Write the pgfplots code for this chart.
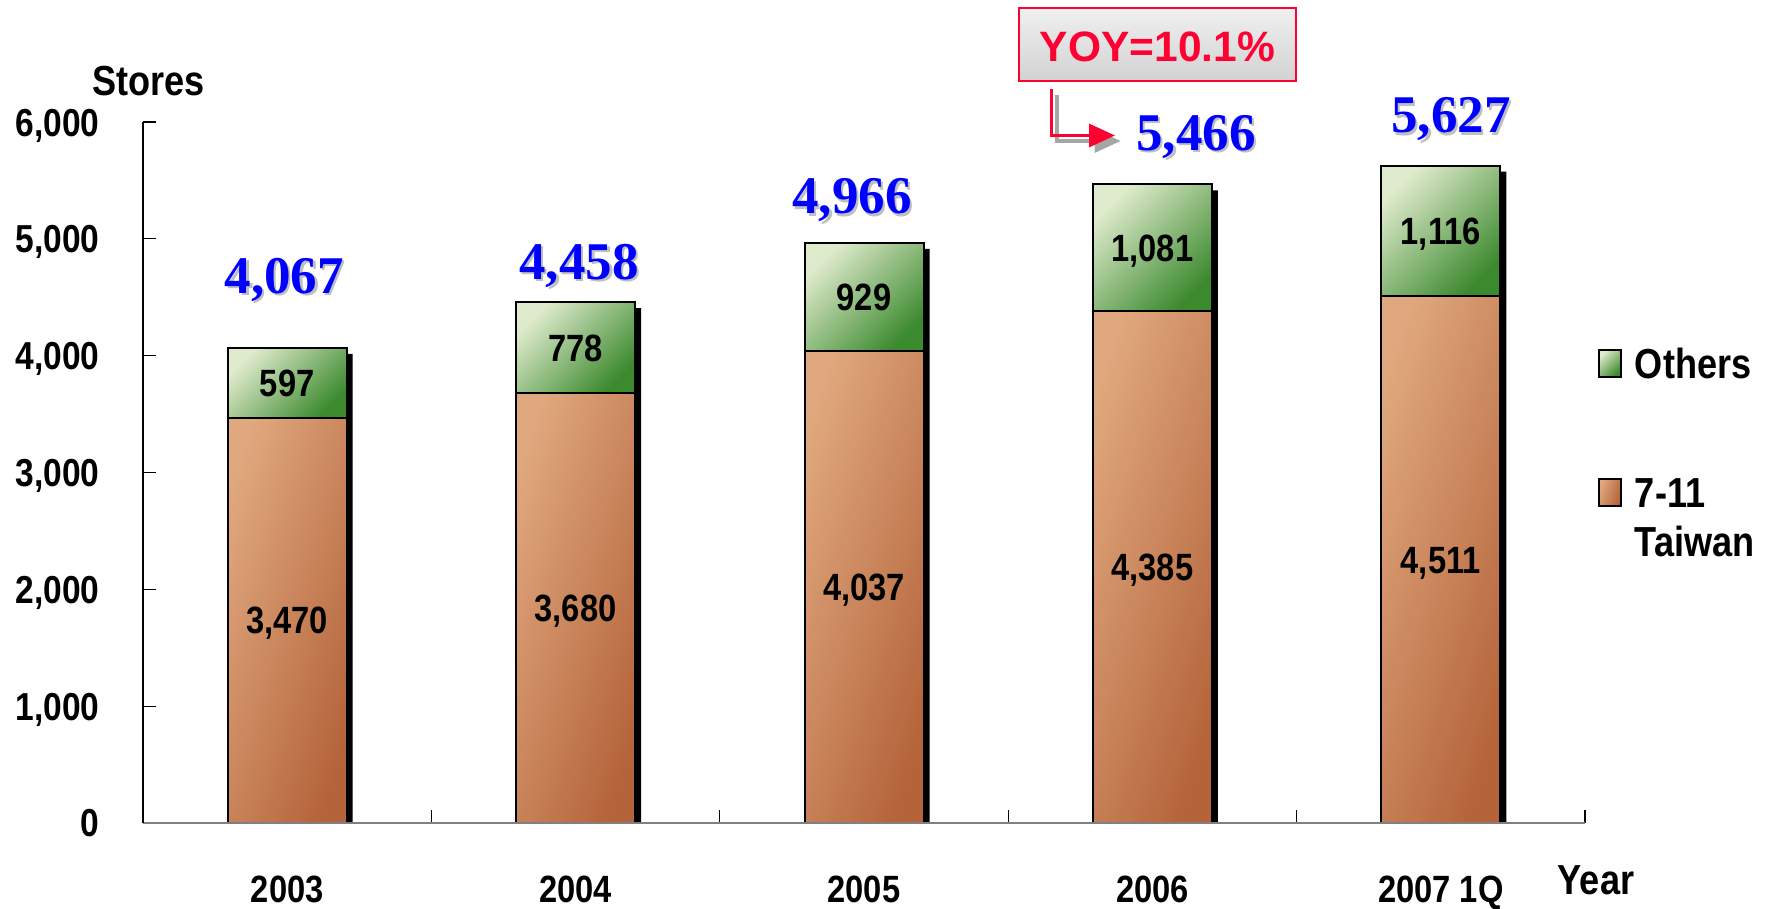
\documentclass[border=0pt]{standalone}
\usepackage{pgfplots}
\pgfplotsset{compat=1.18}
\usepackage{pgfplotstable}
\usepackage{fontspec}
\setmainfont{Liberation Sans}
\newfontfamily\narrow[FakeStretch=0.86]{Liberation Sans}
\newfontfamily\tnr{Liberation Serif}
\usetikzlibrary{arrows.meta}
\definecolor{orL}{HTML}{E0A87E}
\definecolor{orD}{HTML}{B4633A}
\definecolor{grL}{HTML}{E0EBCD}
\definecolor{grD}{HTML}{3C8A2E}
\definecolor{yoyred}{HTML}{FF0033}
\definecolor{lblue}{HTML}{0000FF}

\pgfplotstableread{
x seven others total tx ty
0 3470 597 4067 -0.01 4686
1 3680 778 4458 1.012 4810
2 4037 929 4966 1.958 5367
3 4385 1081 5466 3.151 5914
4 4511 1116 5627 4.035 6060
}\storedata

\pgfplotsset{
  /pgf/number format/.cd, 1000 sep={,}, assume math mode=true,
  /pgfplots/.cd,
  base/.style={
    at={(71.5pt,43pt)}, anchor=south west,
    scale only axis, width=721pt, height=350.5pt,
    xmin=-0.5, xmax=4.5, ymin=0, ymax=6000,
  },
  baraxis/.style={base, hide axis, ybar stacked, bar width=59.5pt},
  orbar/.style={draw=black, line width=1pt, top color=orL, bottom color=orD, shading angle=72},
  grbar/.style={draw=black, line width=1pt, top color=grL, bottom color=grD, shading angle=45},
}
\begin{document}
\begin{tikzpicture}
\useasboundingbox (0,0) rectangle (883pt,454.5pt);
% shadows
\begin{axis}[base, hide axis]
\addplot[ybar, bar width=59.5pt, bar shift=3pt, fill=black, draw=none, yshift=-3pt] table[x=x,y=total]{\storedata};
\end{axis}
% bars, one stacked axis per year so that each bar has its own shading
\begin{axis}[baraxis]
\addplot[orbar] coordinates {(0,3470)};
\addplot[grbar] coordinates {(0,597)};
\end{axis}
\begin{axis}[baraxis]
\addplot[orbar] coordinates {(1,3680)};
\addplot[grbar] coordinates {(1,778)};
\end{axis}
\begin{axis}[baraxis]
\addplot[orbar] coordinates {(2,4037)};
\addplot[grbar] coordinates {(2,929)};
\end{axis}
\begin{axis}[baraxis]
\addplot[orbar] coordinates {(3,4385)};
\addplot[grbar] coordinates {(3,1081)};
\end{axis}
\begin{axis}[baraxis]
\addplot[orbar] coordinates {(4,4511)};
\addplot[grbar] coordinates {(4,1116)};
\end{axis}
% main axis: lines, ticks, labels, legend
\begin{axis}[base,
  axis x line*=bottom, axis y line*=left,
  x axis line style={draw=gray, line width=1pt, -},
  y axis line style={draw=black, line width=0.6pt, -},
  tick align=inside,
  major tick length=6.5pt,
  tick style={draw=black, line width=0.6pt},
  xtick={-0.5,0.5,...,4.5}, xticklabels={,,,,,},
  extra x ticks={0,1,2,3,4},
  extra x tick labels={2003,2004,2005,2006,2007 1Q},
  extra x tick style={major tick length=0pt, xticklabel style={font=\narrow\bfseries\fontsize{19}{20}\selectfont, anchor=base, inner sep=0pt, yshift=-40pt}},
  ytick={0,1000,...,6000},
  yticklabel style={font=\narrow\bfseries\fontsize{19.5}{20}\selectfont, anchor=base east, inner sep=0pt, xshift=-21.5pt, yshift=-7pt},
  ylabel={Stores},
  ylabel style={rotate=-90, at={(rel axis cs:0,1)}, anchor=base, xshift=2.75pt, yshift=13.5pt, inner sep=0pt, font=\narrow\bfseries\fontsize{21}{22}\selectfont},
  xlabel={Year},
  xlabel style={at={(rel axis cs:1,0)}, anchor=base, xshift=5.5pt, yshift=-36pt, inner sep=0pt, font=\narrow\bfseries\fontsize{21}{22}\selectfont},
  legend style={at={(rel axis cs:1.009,0.6776)}, anchor=north west, draw=none, fill=none, inner sep=0pt, outer sep=0pt, row sep=48.5pt, column sep=6.5pt, font={\narrow\bfseries\fontsize{21}{22.5}\selectfont}, nodes={inner sep=0pt}},
  legend cell align=left,
  legend image code/.code={\draw[#1, line width=1pt, draw=black] (0pt,-6pt) rectangle (11pt,7.5pt);},
]
\addlegendimage{grbar}
\addlegendentry{Others}
\addlegendimage{orbar}
\addlegendentry{\vtop{\baselineskip=24.5pt\hbox{7-11}\hbox{Taiwan}}}
\end{axis}
% labels
\begin{axis}[base, hide axis, clip=false]
\addplot[draw=none, mark=none, point meta=explicit, nodes near coords,
  every node near coord/.style={font=\narrow\bfseries\fontsize{19}{20}\selectfont, anchor=base, inner sep=0pt, yshift=-6.8pt, text=black}]
  table[x=x, y expr=\thisrow{seven}/2, meta=seven]{\storedata};
\addplot[draw=none, mark=none, point meta=explicit, nodes near coords,
  every node near coord/.style={font=\narrow\bfseries\fontsize{19}{20}\selectfont, anchor=base, inner sep=0pt, yshift=-6.8pt, text=black}]
  table[x=x, y expr=\thisrow{seven}+\thisrow{others}/2, meta=others]{\storedata};
\addplot[draw=none, mark=none, point meta=explicit, nodes near coords,
  every node near coord/.style={font=\tnr\bfseries\fontsize{26.5}{28}\selectfont, anchor=base, inner sep=0pt, xshift=1.2pt, yshift=-10.2pt, text=gray!50}]
  table[x=tx, y=ty, meta=total]{\storedata};
\addplot[draw=none, mark=none, point meta=explicit, nodes near coords,
  every node near coord/.style={font=\tnr\bfseries\fontsize{26.5}{28}\selectfont, anchor=base, inner sep=0pt, yshift=-9pt, text=lblue}]
  table[x=tx, y=ty, meta=total]{\storedata};
\end{axis}
% YOY annotation
\node[draw=yoyred, line width=0.75pt, top color=gray!12, bottom color=gray!35, minimum width=138.5pt, minimum height=36.5pt, inner sep=0pt] at (578.75pt,432.25pt) {};
\node[anchor=base, inner sep=0pt, text=yoyred, font=\bfseries\fontsize{21.25}{22}\selectfont] at (578.75pt,423.5pt) {YOY=10.1\%};
\draw[gray!70, line width=1.75pt, -{Triangle[length=13pt,width=11.5pt]}] (528.6pt,407pt) |- (560.3pt,384pt);
\draw[yoyred, line width=1.75pt, -{Triangle[length=13pt,width=11.5pt]}] (525.85pt,410pt) |- (557.5pt,386.75pt);
\end{tikzpicture}
\end{document}
